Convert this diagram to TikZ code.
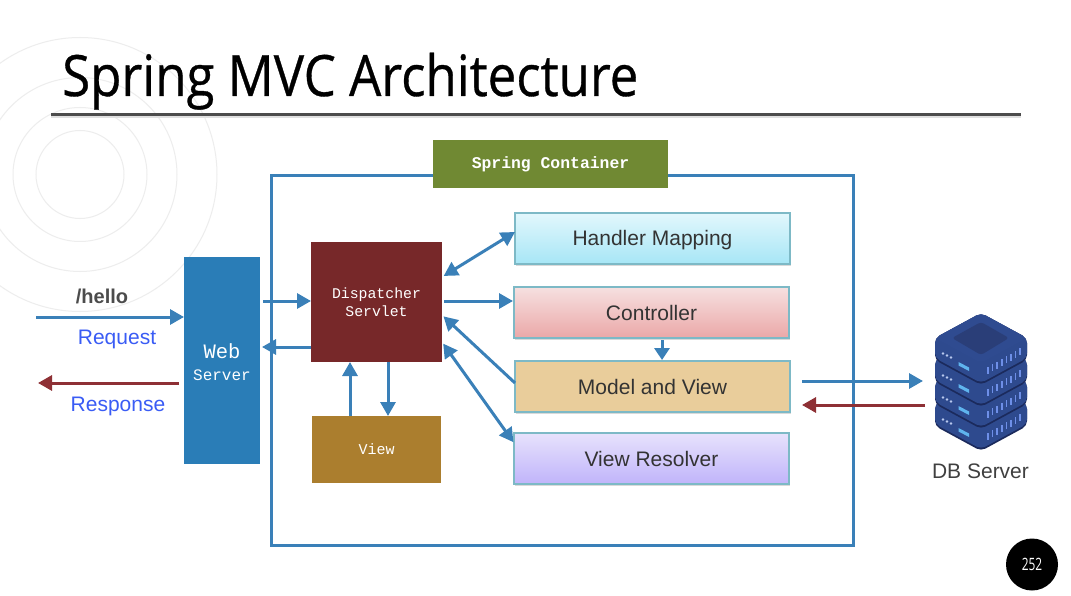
\documentclass[tikz,border=0pt]{standalone}
\usepackage{fontspec}
\usepackage{graphicx}
\setmainfont{Liberation Sans}
\newfontfamily\titlefont[FakeBold=0.6]{Open Sans}
\newfontfamily\pagefont{Open Sans}
\newfontfamily\monofont{Liberation Mono}
\usetikzlibrary{arrows.meta,shadows,calc}
\definecolor{linkblue}{HTML}{3A80B8}
\definecolor{backred}{HTML}{8E3035}
\definecolor{labelblue}{HTML}{3A5CF5}
\definecolor{srvA}{HTML}{2F4B90}
\definecolor{srvB}{HTML}{1B2A5C}
\definecolor{srvC}{HTML}{2E4A8E}
\definecolor{srvD}{HTML}{2A3E78}
\definecolor{srvTick}{HTML}{6E8FE8}
\definecolor{srvBar}{HTML}{5FB4EE}
\definecolor{srvDot}{HTML}{B8C8EE}
\definecolor{springgreen}{RGB}{112,137,51}
\definecolor{webblue}{RGB}{42,125,183}
\definecolor{dispred}{RGB}{119,40,41}
\definecolor{viewbrown}{RGB}{171,126,46}
\definecolor{lightedge}{RGB}{125,185,198}
\definecolor{handlerT}{RGB}{226,247,252}
\definecolor{handlerB}{RGB}{167,230,246}
\definecolor{ctrlT}{RGB}{246,224,224}
\definecolor{ctrlB}{RGB}{235,168,168}
\definecolor{modelF}{RGB}{233,205,155}
\definecolor{resolT}{RGB}{231,226,252}
\definecolor{resolB}{RGB}{192,180,250}
\tikzset{
  softshadow/.style={general shadow={shadow xshift=1pt,shadow yshift=-1.5pt,fill=black,opacity=.15}},
  solidbox/.style={inner sep=0pt,outer sep=0pt,text=white,align=center,font=\monofont},
  lightbox/.style={inner sep=0pt,outer sep=0pt,draw=lightedge,line width=1.4pt,softshadow,minimum width=275pt,minimum height=51pt,font=\fontsize{21}{24}\selectfont,text=black!80,text height=15pt,text depth=0pt},
  arr/.style={draw=linkblue,line width=3pt,-{Triangle[length=14pt,width=15pt]}},
  arrtwo/.style={draw=linkblue,line width=3pt,{Triangle[length=14pt,width=15pt]}-{Triangle[length=14pt,width=15pt]}},
  arrred/.style={draw=backred,line width=3pt,-{Triangle[length=14pt,width=15pt]}},
  caption/.style={inner sep=0pt,anchor=base,text=labelblue,font=\fontsize{21}{24}\selectfont},
  ring/.style={draw=black!7,line width=1pt},
}
\begin{document}
\begin{tikzpicture}[x=1pt,y=-1pt]
\useasboundingbox (0,0) rectangle (1071,596);
\fill[white] (0,0) rectangle (1071,596);
% background rings
\begin{scope}
\clip (0,0) rectangle (1071,596);
\foreach \r in {44,67,97,137} \draw[ring] (80,174.5) circle[radius=\r];
\end{scope}
% title
\node[anchor=base west,inner sep=0pt] (title) at (62,96) {\titlefont\fontsize{57}{60}\selectfont\scalebox{0.895}[1]{Spring MVC Architecture}};
\draw[black!12,line width=3pt] (51,117) -- (1021,117);
\node[inner sep=0pt,minimum width=970pt,minimum height=3pt,fill=black!70] (rule) at (535.5,115) {};
% container
\node[draw=linkblue,line width=3pt,inner sep=0pt,outer sep=0pt,minimum width=582pt,minimum height=369pt] (container) at (562,360.5) {};
\node[solidbox,fill=springgreen,minimum width=235pt,minimum height=48pt,font=\monofont\bfseries\fontsize{16.4}{18}\selectfont] (spring) at (550.5,164) {\raisebox{-1pt}[10pt][3pt]{Spring Container}};
% solid boxes
\node[solidbox,fill=webblue,minimum width=76pt,minimum height=207pt] (web) at (222,360.5)
  {\rule{0pt}{20pt}\raisebox{2pt}{\fontsize{20.5}{24}\selectfont Web}\\[8pt]{\fontsize{16}{18}\selectfont Server}};
\node[solidbox,fill=dispred,minimum width=131pt,minimum height=120pt,font=\monofont\fontsize{14.8}{18}\selectfont] (disp) at (376.5,302) {Dispatcher\\Servlet};
\node[solidbox,fill=viewbrown,minimum width=129pt,minimum height=67pt,font=\monofont\fontsize{15}{18}\selectfont] (view) at (376.5,449.5) {View};
% light boxes
\node[lightbox,top color=handlerT,bottom color=handlerB] (handler) at (652.5,238.5) {Handler Mapping};
\node[lightbox,top color=ctrlT,bottom color=ctrlB] (controller) at (651.5,312.5) {Controller};
\node[lightbox,fill=modelF] (model) at (652.5,386.5) {Model and View};
\node[lightbox,top color=resolT,bottom color=resolB] (resolver) at (651.5,458.5) {View Resolver};
% free labels
\node[inner sep=0pt,font=\bfseries\fontsize{20}{22}\selectfont,text=black!70] (hello) at (102,296) {/hello};
\node[caption] (request) at (117,344) {Request};
\node[caption] (response) at (118,411) {Response};
\node[inner sep=0pt,anchor=base,font=\fontsize{21}{24}\selectfont,text=black!75] (dblabel) at (980.5,478) {DB Server};
% DB server icon
\foreach \d in {66,44,22,0}{
  \begin{scope}[yshift=-\d pt]
    \fill[srvB,rounded corners=5pt] (935,338) -- (981,313) -- (1027,338) -- (1027,360) -- (981,385) -- (935,360) -- cycle;
    \fill[srvC,rounded corners=5pt] (935,338) -- (981,313) -- (1027,338) -- (1027,358) -- (981,383) -- (935,358) -- cycle;
    \fill[srvDot] (943,353.5) circle[radius=1.3] (947,355.5) circle[radius=1.3] (951,357.5) circle[radius=1.3];
    \fill[srvBar] (958.5,362) -- (969,367.5) -- (969,371) -- (958.5,365.5) -- cycle;
    \foreach \k in {0,...,7}{
      \draw[srvTick,line width=1.5pt] ({988+\k*4.6},{367-\k*2.7}) -- ++(0,7);
    }
  \end{scope}
}
\fill[srvA,rounded corners=5pt] (935,338) -- (981,313) -- (1027,338) -- (981,363) -- cycle;
\fill[srvD,rounded corners=3pt] (952,338) -- (981,322) -- (1009,338) -- (981,355) -- cycle;
\coordinate (dbin) at (923,381);
\coordinate (dbout) at (925,405);
\coordinate (reqstart) at (36,317);
\coordinate (respend) at (38,383);
\coordinate (respstart) at (179,383);
% connectors
\draw[arr] (reqstart) -- (web.west |- reqstart);
\draw[arrred] (respstart) -- (respend);
\draw[arr,shorten <=3pt] (web.east |- 0,301) -- (disp.west |- 0,301);
\draw[arr,shorten >=2pt] (disp.west |- 0,347) -- (web.east |- 0,347);
\draw[arrtwo,shorten <=2pt] (disp.east |- 0,277) -- (handler.west |- 0,232);
\draw[arr,shorten <=2pt,shorten >=1pt] (disp.east |- 0,301) -- (controller.west |- 0,301);
\draw[arr,shorten >=2pt] (model.west |- 0,383) -- (disp.east |- 0,315);
\draw[arrtwo,shorten <=2pt,shorten >=1pt] (disp.east |- 0,342) -- (resolver.west |- 0,443);
\draw[arr,-{Triangle[length=12pt,width=15pt]},shorten <=2pt,shorten >=1pt] (controller.south -| 662,0) -- (model.north -| 662,0);
\draw[arr] (view.north -| 350,0) -- (disp.south -| 350,0);
\draw[arr] (disp.south -| 388,0) -- (view.north -| 388,0);
\draw[arr,shorten <=12pt] (model.east |- dbin) -- (dbin);
\draw[arrred,shorten >=12pt] (dbout) -- (model.east |- dbout);
% page number
\node[circle,fill=black,inner sep=0pt,minimum size=52pt,text=white,font=\pagefont\fontsize{17}{18}\selectfont] (page) at (1032,564.5) {\scalebox{0.7}[1]{252}};
\end{tikzpicture}
\end{document}
